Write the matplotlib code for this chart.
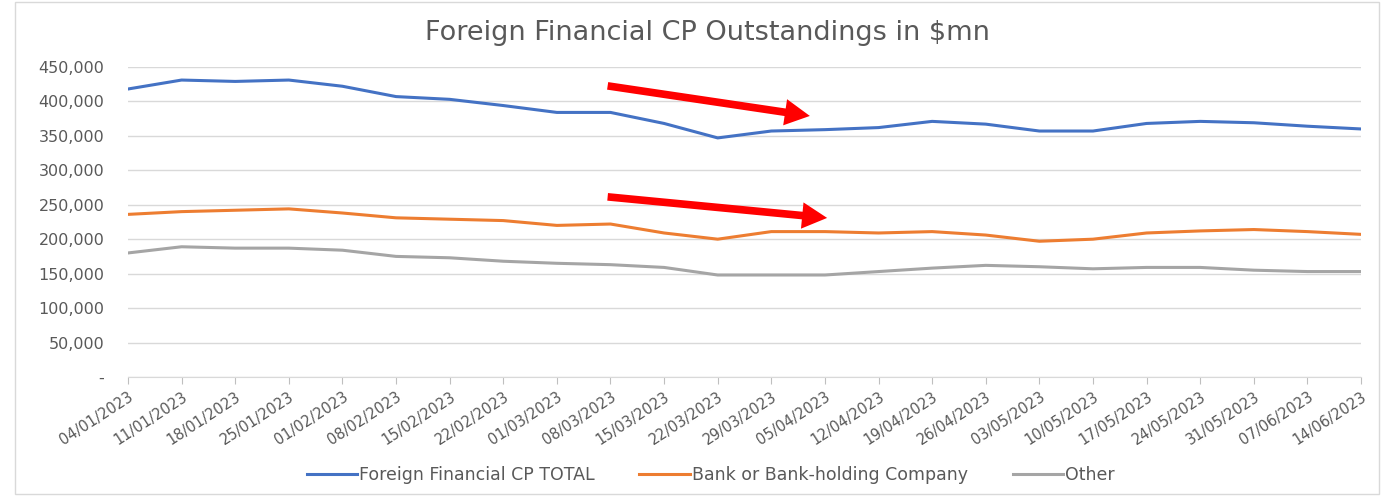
#!/usr/bin/env python3

import numpy as np
from matplotlib import pyplot as plt
from matplotlib.ticker import FuncFormatter

plt.rcParams["font.family"] = ["DejaVu Sans"]

dates = ["04/01/2023", "11/01/2023", "18/01/2023", "25/01/2023", "01/02/2023",
         "08/02/2023", "15/02/2023", "22/02/2023", "01/03/2023", "08/03/2023",
         "15/03/2023", "22/03/2023", "29/03/2023", "05/04/2023", "12/04/2023",
         "19/04/2023", "26/04/2023", "03/05/2023", "10/05/2023", "17/05/2023",
         "24/05/2023", "31/05/2023", "07/06/2023", "14/06/2023"]

total = [418000, 431000, 429000, 431000, 422000, 407000, 403000, 394000,
         384000, 384000, 368000, 347000, 357000, 359000, 362000, 371000,
         367000, 357000, 357000, 368000, 371000, 369000, 364000, 360000]

bank = [236000, 240000, 242000, 244000, 238000, 231000, 229000, 227000,
        220000, 222000, 209000, 200000, 211000, 211000, 209000, 211000,
        206000, 197000, 200000, 209000, 212000, 214000, 211000, 207000]

other = [180000, 189000, 187000, 187000, 184000, 175000, 173000, 168000,
         165000, 163000, 159000, 148000, 148000, 148000, 153000, 158000,
         162000, 160000, 157000, 159000, 159000, 155000, 153000, 153000]

series = [("Foreign Financial CP TOTAL", total, "#4472C4"),
          ("Bank or Bank-holding Company", bank, "#ED7D31"),
          ("Other", other, "#A5A5A5")]

TXT = "#595959"

fig = plt.figure(figsize=(13.85, 4.96), dpi=100)
ax = fig.add_axes([0.0924, 0.24, 0.8903, 0.625])

x = np.arange(len(dates))
for label, vals, color in series:
    ax.plot(x, vals, "-", color=color, lw=2.2, label=label)

ax.set_xlim(0, len(dates) - 1)
ax.set_ylim(0, 450000)
ax.set_yticks(np.arange(0, 450001, 50000))
ax.yaxis.set_major_formatter(
    FuncFormatter(lambda v, p: "-" if v == 0 else f"{int(v):,}"))
ax.set_xticks(x)
ax.set_xticklabels(dates, rotation=33, ha="right", rotation_mode="anchor")

ax.grid(axis="y", color="#d9d9d9", lw=1)
ax.set_axisbelow(True)
for s in ["left", "right", "top"]:
    ax.spines[s].set_visible(False)
ax.spines["bottom"].set_color("#d9d9d9")
ax.tick_params(axis="y", length=0, pad=17, labelsize=11.5, labelcolor=TXT)
ax.tick_params(axis="x", length=5, color="#bfbfbf", pad=4, labelsize=10.5,
               labelcolor=TXT)

# red arrows drawn on the original
for tail, head in [((0.389, 0.939), (0.553, 0.842)),
                   ((0.389, 0.581), (0.567, 0.513))]:
    ax.annotate("", xy=head, xytext=tail, xycoords="axes fraction",
                textcoords="axes fraction",
                arrowprops=dict(width=5.5, headwidth=19, headlength=18,
                                color="#FF0000", lw=0))

fig.text(0.511, 0.933, "Foreign Financial CP Outstandings in $mn",
         ha="center", va="center", fontsize=19.5, color=TXT)

fig.legend(loc="center", bbox_to_anchor=(0.513, 0.043), ncol=3,
           frameon=False, fontsize=12.5, labelcolor=TXT, handlelength=2.9,
           handletextpad=0.1, columnspacing=2.6)

# chart area border
fig.patches.append(plt.Rectangle((0.011, 0.005), 0.985, 0.99,
                                 transform=fig.transFigure, fill=False,
                                 ec="#d9d9d9", lw=1))

plt.savefig("out.png", dpi=100)
